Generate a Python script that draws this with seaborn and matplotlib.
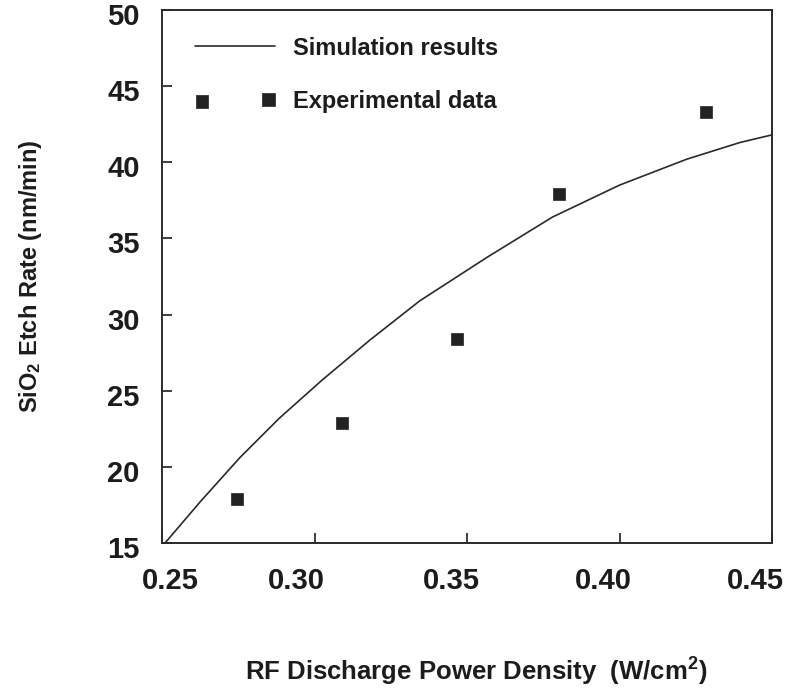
import matplotlib
matplotlib.use("Agg")
import matplotlib.pyplot as plt
import matplotlib.transforms as mtransforms
import numpy as np
import pandas as pd
import seaborn as sns

# ---- data ----
sim_power = [0.251, 0.2625, 0.2755, 0.2885, 0.3025, 0.318, 0.3345, 0.3565, 0.378, 0.400, 0.422, 0.4395, 0.450]
sim_rate = [15.0, 17.7, 20.6, 23.2, 25.7, 28.3, 30.9, 33.75, 36.4, 38.5, 40.2, 41.3, 41.8]

exp_power = [0.2746, 0.3090, 0.3467, 0.3802, 0.4284]
exp_rate = [17.9, 22.9, 28.4, 37.9, 43.3]

x_ticks = [0.25, 0.30, 0.35, 0.40, 0.45]
x_tick_labels = ["0.25", "0.30", "0.35", "0.40", "0.45"]
y_ticks = [15, 20, 25, 30, 35, 40, 45, 50]
y_tick_labels = ["15", "20", "25", "30", "35", "40", "45", "50"]

series_names = ["Simulation results", "Experimental data"]
x_title = "RF Discharge Power Density  (W/cm$^{2}$)"
y_title = "SiO$_{2}$ Etch Rate (nm/min)"

# ---- style ----
sns.set_theme(style="white")
plt.rcParams['font.family'] = ['Liberation Sans', 'DejaVu Sans']
plt.rcParams['font.weight'] = 'bold'
plt.rcParams['mathtext.fontset'] = 'custom'
plt.rcParams['mathtext.rm'] = 'Liberation Sans:bold'
plt.rcParams['mathtext.bf'] = 'Liberation Sans:bold'
plt.rcParams['mathtext.it'] = 'Liberation Sans:bold'
plt.rcParams['mathtext.default'] = 'rm'
ink = "#1c1c1c"

W, H = 792, 694
fig = plt.figure(figsize=(W / 100, H / 100), dpi=100)
left, right, top, bottom = 162, 772, 10, 543
ax = fig.add_axes([left / W, (H - bottom) / H, (right - left) / W, (bottom - top) / H])

sim_df = pd.DataFrame({"power": sim_power, "rate": sim_rate})
exp_df = pd.DataFrame({"power": exp_power, "rate": exp_rate})

sns.lineplot(data=sim_df, x="power", y="rate", ax=ax, color="#2a2a2a",
             linewidth=1.2, sort=False, label=series_names[0])
sns.scatterplot(data=exp_df, x="power", y="rate", ax=ax, marker="s", s=85,
                color="#222222", edgecolor="#222222", linewidth=0.5,
                label=series_names[1])

ax.set_xlim(0.25, 0.45)
ax.set_ylim(15, 50)
ax.set_xticks(x_ticks)
ax.set_xticklabels(x_tick_labels, fontsize=21, fontweight='bold', color=ink)
ax.set_yticks(y_ticks)
ax.set_yticklabels(y_tick_labels, fontsize=21, fontweight='bold', color=ink)
ax.tick_params(axis='x', direction='in', length=7, width=1.2, pad=17, colors=ink,
               bottom=True, top=False)
ax.tick_params(axis='y', direction='in', length=7, width=1.2, pad=16, colors=ink,
               left=True, right=False)

# the scanned reference places its x tick labels slightly off the tick marks
label_shift_px = [8, -18, -16, -16, -17]
for lab, dx in zip(ax.get_xticklabels(), label_shift_px):
    lab.set_transform(lab.get_transform() +
                      mtransforms.ScaledTranslation(dx / 100, 0, fig.dpi_scale_trans))
for lab in ax.get_yticklabels():
    lab.set_transform(lab.get_transform() +
                      mtransforms.ScaledTranslation(0, -4 / 100, fig.dpi_scale_trans))

for sp in ax.spines.values():
    sp.set_visible(True)
    sp.set_color("#2a2a2a")
    sp.set_linewidth(1.4)

ax.set_xlabel(x_title, fontsize=18.5, fontweight='bold', color=ink)
ax.set_ylabel(y_title, fontsize=17, fontweight='bold', color=ink)
ax.xaxis.set_label_coords((476 - left) / (right - left), -(656 - bottom) / (bottom - top))
ax.yaxis.set_label_coords(-(left - 44) / (right - left), 0.5)

leg = ax.legend(loc='upper left', bbox_to_anchor=(0.054, 0.950), frameon=False,
                borderaxespad=0, borderpad=0, handlelength=3.4, handletextpad=0.75,
                labelspacing=1.27, scatterpoints=2, fontsize=17)
for t in leg.get_texts():
    t.set_fontweight('bold')
    t.set_color(ink)

ax.set_facecolor("white")
fig.patch.set_facecolor("white")
fig.savefig("out.png", dpi=100, facecolor="white")
